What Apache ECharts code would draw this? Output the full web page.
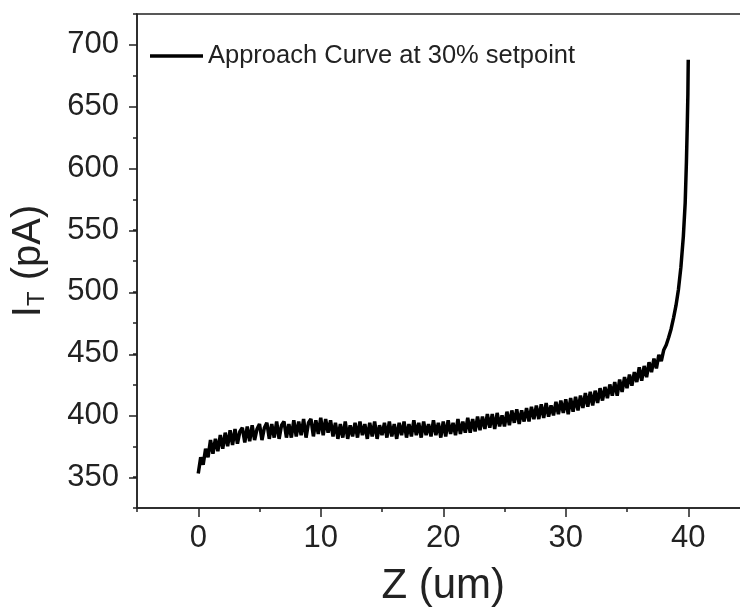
<!DOCTYPE html>
<html>
<head>
<meta charset="utf-8">
<script src="https://cdn.jsdelivr.net/npm/echarts@6/dist/echarts.min.js"></script>
<style>
  html, body { margin: 0; padding: 0; background: #fff; overflow: hidden; }
  /* the original figure is cropped on the right, so the canvas runs past the window */
  #chart { width: 760px; height: 612px; }
</style>
</head>
<body>
<div id="chart"></div>
<script>
// Z position (um) of each sample
const zUm = [
  0, 0.2, 0.4, 0.6, 0.8,
  1, 1.2, 1.4, 1.6, 1.8,
  2, 2.2, 2.4, 2.6, 2.8,
  3, 3.2, 3.4, 3.6, 3.8,
  4, 4.2, 4.4, 4.6, 4.8,
  5, 5.2, 5.4, 5.6, 5.8,
  6, 6.2, 6.4, 6.6, 6.8,
  7, 7.2, 7.4, 7.6, 7.8,
  8, 8.2, 8.4, 8.6, 8.8,
  9, 9.2, 9.4, 9.6, 9.8,
  10, 10.2, 10.4, 10.6, 10.8,
  11, 11.2, 11.4, 11.6, 11.8,
  12, 12.2, 12.4, 12.6, 12.8,
  13, 13.2, 13.4, 13.6, 13.8,
  14, 14.2, 14.4, 14.6, 14.8,
  15, 15.2, 15.4, 15.6, 15.8,
  16, 16.2, 16.4, 16.6, 16.8,
  17, 17.2, 17.4, 17.6, 17.8,
  18, 18.2, 18.4, 18.6, 18.8,
  19, 19.2, 19.4, 19.6, 19.8,
  20, 20.2, 20.4, 20.6, 20.8,
  21, 21.2, 21.4, 21.6, 21.8,
  22, 22.2, 22.4, 22.6, 22.8,
  23, 23.2, 23.4, 23.6, 23.8,
  24, 24.2, 24.4, 24.6, 24.8,
  25, 25.2, 25.4, 25.6, 25.8,
  26, 26.2, 26.4, 26.6, 26.8,
  27, 27.2, 27.4, 27.6, 27.8,
  28, 28.2, 28.4, 28.6, 28.8,
  29, 29.2, 29.4, 29.6, 29.8,
  30, 30.2, 30.4, 30.6, 30.8,
  31, 31.2, 31.4, 31.6, 31.8,
  32, 32.2, 32.4, 32.6, 32.8,
  33, 33.2, 33.4, 33.6, 33.8,
  34, 34.2, 34.4, 34.6, 34.8,
  35, 35.2, 35.4, 35.6, 35.8,
  36, 36.2, 36.4, 36.6, 36.8,
  37, 37.2, 37.4, 37.6, 37.8,
  38, 38.2, 38.4, 38.6, 38.8,
  39, 39.2, 39.4, 39.6, 39.75, 39.85, 39.92, 39.97, 40
];

// tip current I_T (pA)
const currentPA = [
  353, 366, 360, 373, 366,
  380, 369, 381, 371, 384,
  373, 386, 375, 388, 376,
  389, 377, 387, 390, 378,
  391, 379, 392, 380, 389,
  393, 380, 390, 394, 381,
  393, 382, 395, 381, 392,
  395, 382, 393, 382, 396,
  383, 395, 384, 397, 382,
  394, 397, 383, 396, 385,
  398, 384, 397, 386, 396,
  383, 394, 381, 393, 382,
  395, 381, 392, 383, 394,
  382, 395, 384, 393, 381,
  394, 383, 395, 381, 392,
  384, 394, 382, 395, 383,
  393, 381, 394, 384, 395,
  382, 393, 383, 396, 384,
  394, 382, 395, 384, 393,
  383, 396, 384, 394, 382,
  395, 383, 396, 385, 394,
  384, 397, 385, 395, 386,
  398, 386, 397, 387, 399,
  388, 399, 389, 401, 390,
  401, 389, 402, 391, 400,
  391, 403, 392, 404, 394,
  405, 393, 404, 395, 406,
  395, 407, 397, 408, 397,
  409, 398, 410, 399, 408,
  400, 411, 401, 412, 402,
  413, 401, 414, 403, 415,
  404, 416, 406, 418, 407,
  419, 408, 420, 410, 422,
  412, 423, 414, 425, 416,
  427, 416, 429, 419, 431,
  422, 433, 424, 435, 427,
  439, 428, 440, 431, 443,
  435, 446, 438, 449, 444,
  453, 457, 463, 470, 479,
  489, 502, 520, 545, 572, 605, 635, 660, 688
];

const seriesName = 'Approach Curve at 30% setpoint';
const xMajorTicks = [0, 10, 20, 30, 40];
const yMajorTicks = [350, 400, 450, 500, 550, 600, 650, 700];

const font = 'Liberation Sans';
const ink = '#222';

const chart = echarts.init(document.getElementById('chart'), null, { renderer: 'canvas' });

const pxPerZ = 12.25;      // 10 um = 122.5 px
const pxPerPA = 495 / 400; // 325..725 pA over 495 px

const tickStyle = { color: ink, width: 1.5 };

chart.setOption({
  animation: false,
  backgroundColor: '#fff',
  textStyle: { fontFamily: font },
  grid: [
    // plot frame, -5..45 um by 325..725 pA
    { left: 137, top: 14, width: 50 * pxPerZ, height: 495, show: true, borderColor: ink, borderWidth: 1.5 },
    // helper grid covering only the labelled range, carries the long ticks
    { left: 137 + 5 * pxPerZ, top: 14 + 25 * pxPerPA, width: 40 * pxPerZ, height: 350 * pxPerPA, show: false }
  ],
  legend: {
    left: 145,
    top: 38,
    icon: 'rect',
    itemWidth: 53,
    itemHeight: 3.5,
    textStyle: { fontSize: 25.5, color: ink, fontFamily: font },
    data: [seriesName]
  },
  xAxis: [
    {
      gridIndex: 0,
      type: 'value',
      min: -5,
      max: 45,
      interval: 5,
      name: 'Z (um)',
      nameLocation: 'middle',
      nameGap: 57,
      nameTextStyle: { fontSize: 42, color: ink, fontFamily: font },
      axisLine: { show: true, onZero: false, lineStyle: tickStyle },
      axisTick: { show: true, inside: false, length: 4, lineStyle: tickStyle },
      axisLabel: {
        fontSize: 31,
        color: ink,
        margin: 15,
        formatter: v => xMajorTicks.includes(v) ? String(v) : ''
      },
      splitLine: { show: false }
    },
    {
      gridIndex: 1,
      type: 'value',
      min: xMajorTicks[0],
      max: xMajorTicks[xMajorTicks.length - 1],
      interval: 10,
      offset: 25 * pxPerPA,
      axisLine: { show: false, onZero: false },
      axisTick: { show: true, inside: false, length: 8, lineStyle: tickStyle },
      axisLabel: { show: false },
      splitLine: { show: false }
    }
  ],
  yAxis: [
    {
      gridIndex: 0,
      type: 'value',
      min: 325,
      max: 725,
      interval: 25,
      name: '{a|I}{b|T}{a| (pA)}',
      nameLocation: 'middle',
      nameRotate: 90,
      nameGap: 88,
      nameTextStyle: {
        color: ink,
        fontFamily: font,
        rich: {
          a: { fontSize: 40, lineHeight: 40, color: ink, fontFamily: font },
          b: { fontSize: 24, lineHeight: 14, verticalAlign: 'bottom', color: ink, fontFamily: font }
        }
      },
      axisLine: { show: true, onZero: false, lineStyle: tickStyle },
      axisTick: { show: true, inside: false, length: 4, lineStyle: tickStyle },
      axisLabel: {
        fontSize: 31,
        color: ink,
        margin: 18,
        formatter: v => yMajorTicks.includes(v) ? String(v) : ''
      },
      splitLine: { show: false }
    },
    {
      gridIndex: 1,
      type: 'value',
      min: yMajorTicks[0],
      max: yMajorTicks[yMajorTicks.length - 1],
      interval: 50,
      offset: 5 * pxPerZ,
      axisLine: { show: false, onZero: false },
      axisTick: { show: true, inside: false, length: 8, lineStyle: tickStyle },
      axisLabel: { show: false },
      splitLine: { show: false }
    }
  ],
  series: [
    {
      name: seriesName,
      type: 'line',
      xAxisIndex: 0,
      yAxisIndex: 0,
      symbol: 'none',
      lineStyle: { color: '#000', width: 3.5 },
      itemStyle: { color: '#000' },
      data: zUm.map((z, i) => [z, currentPA[i]])
    }
  ]
});
</script>
</body>
</html>
